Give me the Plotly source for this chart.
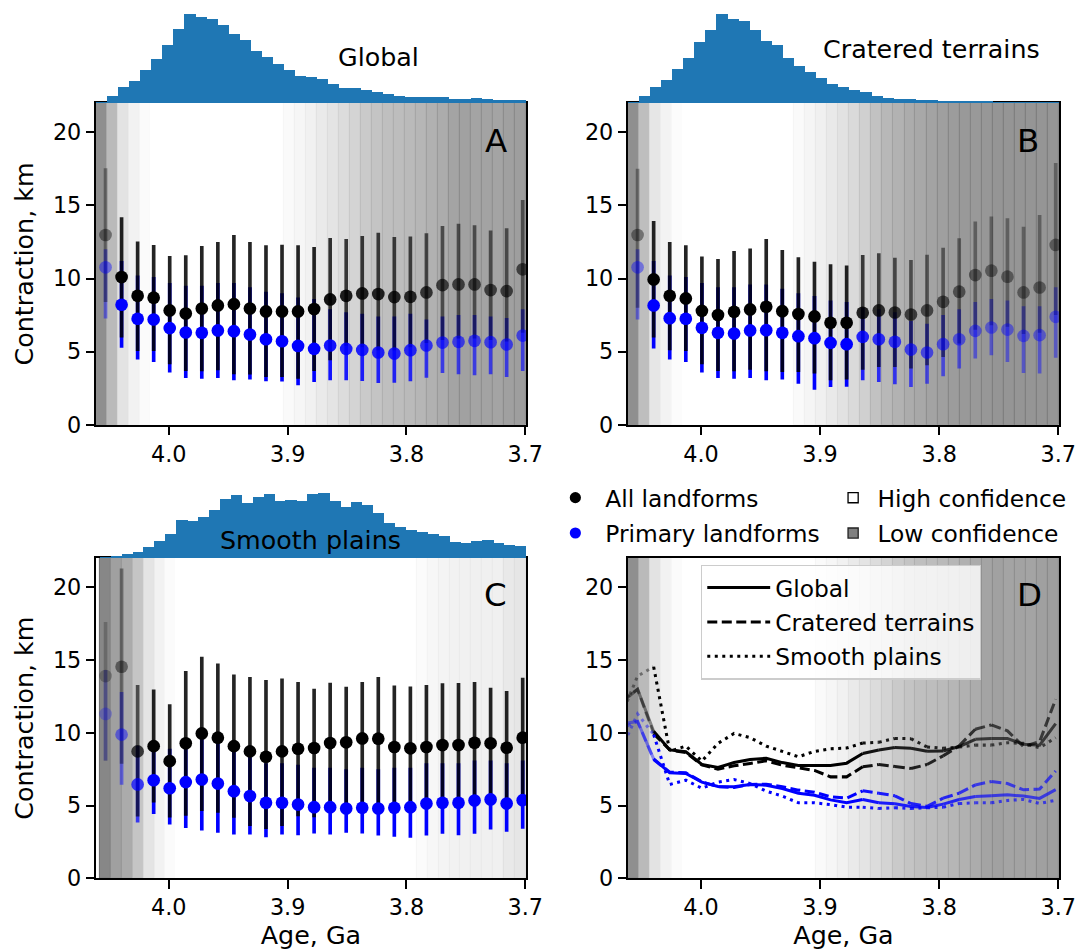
import plotly.graph_objects as go

# target picture size (all positions below are in these pixels)
W, H = 1091, 952
# the capture shrinks the page by ~1.5 %; draw slightly larger to compensate
K = 1.0147
FIG_W, FIG_H = round(W * K), round(H * K)
FONT = "DejaVu Sans"


def S(v):
    return v * K


# ---------------- data ----------------
ages = [4.0532, 4.0397, 4.0262, 4.0127, 3.9992, 3.9857, 3.9722, 3.9587, 3.9452,
        3.9317, 3.9182, 3.9047, 3.8912, 3.8777, 3.8642, 3.8507, 3.8372, 3.8237,
        3.8102, 3.7967, 3.7832, 3.7697, 3.7562, 3.7427, 3.7292, 3.7157, 3.7022]

xticks = [4.0, 3.9, 3.8, 3.7]
xticklabels = ["4.0", "3.9", "3.8", "3.7"]
yticks = [0, 5, 10, 15, 20]
xrange_ = [4.0613, 3.6994]
yrange_ = [0, 22]

# Global (A)
glob_all = [12.98, 10.10, 8.82, 8.69, 7.82, 7.61, 7.95, 8.16, 8.25, 7.95, 7.75, 7.75, 7.75, 7.91,
            8.57, 8.82, 8.98, 8.94, 8.73, 8.75, 9.05, 9.55, 9.60, 9.60, 9.21, 9.14, 10.63]
glob_all_hi = [17.55, 14.19, 12.53, 12.30, 11.54, 11.59, 12.23, 12.50, 12.98, 12.50, 12.27, 12.32, 12.27, 12.16,
               12.78, 12.71, 12.91, 13.14, 12.85, 12.87, 13.10, 13.60, 13.74, 13.65, 13.28, 13.44, 15.38]
glob_all_lo = [8.4, 5.97, 5.05, 5.05, 4.14, 3.68, 3.66, 3.73, 3.45, 3.43, 3.27, 3.27, 3.15, 3.68,
               4.41, 5.4, 5.3, 5.1, 5.1, 5.3, 5.6, 5.8, 5.9, 5.9, 5.8, 5.7, 6.3]
glob_pri = [10.77, 8.21, 7.25, 7.20, 6.61, 6.31, 6.29, 6.45, 6.40, 6.17, 5.85, 5.71, 5.39, 5.19,
            5.42, 5.19, 5.12, 4.94, 4.87, 5.10, 5.42, 5.62, 5.67, 5.74, 5.65, 5.49, 6.10]
glob_pri_hi = [12.0, 11.2, 10.2, 10.1, 9.7, 9.5, 9.5, 9.7, 9.7, 9.4, 9.1, 9.0, 8.7, 8.6,
               7.9, 7.7, 7.6, 7.4, 7.4, 7.6, 7.2, 7.4, 7.5, 7.5, 7.4, 7.3, 7.9]
glob_pri_lo = [7.27, 5.26, 4.46, 4.30, 3.57, 3.20, 3.15, 3.20, 3.04, 3.09, 2.97, 2.95, 2.70, 2.93,
               3.04, 3.04, 2.99, 2.86, 2.88, 2.97, 3.22, 3.54, 3.45, 3.38, 3.45, 3.27, 3.68]
glob_alpha = [0.42, 1, 1, 1, 1, 1, 1, 1, 1, 1, 1, 1, 1, 1,
              0.92, 0.88, 0.86, 0.84, 0.82, 0.8, 0.72, 0.66, 0.64, 0.64, 0.64, 0.64, 0.6]

# Cratered terrains (B)
cr_all = [12.98, 9.94, 8.82, 8.64, 7.79, 7.50, 7.73, 7.89, 8.07, 7.77, 7.57, 7.41, 6.97, 6.97,
          7.66, 7.82, 7.68, 7.54, 7.82, 8.41, 9.10, 10.24, 10.54, 10.13, 9.05, 9.39, 12.30]
cr_all_hi = [17.51, 13.94, 12.50, 12.27, 11.50, 11.34, 11.89, 12.05, 12.71, 11.95, 11.45, 11.15, 10.97, 10.90,
             11.61, 11.73, 11.43, 11.27, 11.63, 12.11, 12.75, 13.90, 14.24, 14.13, 13.55, 14.35, 17.9]
cr_all_lo = [8.0, 5.97, 5.10, 5.05, 4.14, 3.68, 3.66, 3.77, 3.66, 3.61, 3.61, 3.50, 3.04, 3.09,
             3.77, 3.95, 3.95, 3.84, 4.07, 4.64, 5.55, 6.5, 6.8, 6.7, 6.2, 6.3, 7.5]
cr_pri = [10.77, 8.16, 7.29, 7.25, 6.63, 6.29, 6.24, 6.45, 6.47, 6.29, 6.06, 5.92, 5.60, 5.51,
          6.01, 5.85, 5.67, 5.14, 4.94, 5.51, 5.85, 6.42, 6.65, 6.51, 6.08, 6.13, 7.38]
cr_pri_hi = [12.0, 11.2, 10.2, 10.1, 9.7, 9.4, 9.4, 9.6, 9.6, 9.3, 9.0, 8.8, 8.5, 8.4,
             8.0, 7.9, 7.7, 7.1, 6.9, 7.5, 7.9, 8.4, 8.6, 8.5, 8.1, 8.1, 9.4]
cr_pri_lo = [7.2, 5.21, 4.46, 4.30, 3.57, 3.20, 3.15, 3.20, 3.04, 3.09, 2.81, 2.40, 2.58, 2.6,
             3.04, 2.93, 2.77, 2.58, 2.81, 3.31, 3.84, 4.53, 4.75, 4.30, 3.54, 3.50, 4.59]
cr_alpha = [0.4, 1, 1, 1, 1, 1, 1, 1, 1, 1, 1, 1, 1, 1,
            0.85, 0.78, 0.72, 0.65, 0.58, 0.55, 0.5, 0.45, 0.42, 0.42, 0.42, 0.42, 0.4]

# Smooth plains (C)
sp_all = [13.89, 14.53, 8.72, 9.08, 8.05, 9.27, 9.95, 9.66, 9.08, 8.72, 8.35, 8.72, 8.90, 8.95,
          9.29, 9.34, 9.61, 9.59, 9.02, 8.93, 9.02, 9.15, 9.15, 9.31, 9.27, 8.97, 9.66]
sp_all_hi = [17.6, 21.28, 13.27, 12.97, 11.95, 14.23, 15.22, 14.76, 14.0, 13.82, 13.62, 13.73, 13.48, 13.02,
             13.43, 13.16, 13.48, 13.82, 13.25, 13.18, 13.27, 13.39, 13.41, 13.48, 13.08, 12.87, 13.78]
sp_all_lo = [8.07, 7.87, 4.25, 5.21, 4.18, 4.3, 4.62, 4.5, 4.16, 3.59, 3.4, 3.6, 4.27, 4.2,
             5.1, 5.0, 5.05, 5.0, 5.05, 5.1, 5.35, 5.4, 5.4, 5.55, 5.6, 5.35, 5.6]
sp_pri = [11.29, 9.87, 6.45, 6.74, 6.19, 6.61, 6.79, 6.51, 5.99, 5.65, 5.19, 5.19, 5.07, 4.89,
          4.89, 4.80, 4.85, 4.80, 4.85, 4.89, 5.14, 5.19, 5.19, 5.35, 5.42, 5.14, 5.37]
sp_pri_hi = [14.3, 12.8, 9.1, 9.4, 8.9, 9.4, 9.6, 9.3, 8.7, 8.4, 7.9, 7.9, 7.8, 7.6,
             7.6, 7.5, 7.6, 7.5, 7.6, 7.6, 7.9, 7.9, 7.9, 8.1, 8.1, 7.9, 8.1]
sp_pri_lo = [8.1, 6.43, 3.84, 4.42, 3.7, 3.46, 3.29, 3.13, 3.02, 3.02, 2.83, 3.02, 2.97, 3.09,
             3.02, 3.13, 3.09, 2.95, 2.86, 2.79, 2.95, 3.06, 2.97, 3.06, 3.36, 3.2, 3.41]
sp_alpha = [0.25, 0.45, 0.72, 1, 1, 1, 1, 1, 1, 1, 1, 1, 1, 1,
            1, 1, 1, 1, 1, 1, 1, 1, 1, 1, 1, 1, 1]

# D: values of each curve one step before the first bin (off the left edge)
d_lead_age = 4.0667
d_lead_alpha = 0.42
d_lead_glob_all, d_lead_cr_all, d_lead_sp_all = 12.06, 12.2, 11.2
d_lead_glob_pri, d_lead_cr_pri, d_lead_sp_pri = 10.6, 10.3, 8.9

# histogram / confidence bins
bins_gc = [4.0567, 4.0474, 4.0381, 4.0288, 4.0195, 4.0103, 4.0010, 3.9917, 3.9824, 3.9731,
           3.9638, 3.9545, 3.9453, 3.9360, 3.9267, 3.9174, 3.9081, 3.8988, 3.8895, 3.8803,
           3.8710, 3.8617, 3.8524, 3.8431, 3.8338, 3.8245, 3.8153, 3.8060, 3.7967, 3.7874,
           3.7781, 3.7688, 3.7595, 3.7503, 3.7410, 3.7317, 3.7224, 3.7131, 3.7038]
binw_gc = 0.00928
bins_sp = [4.0534, 4.0442, 4.0350, 4.0258, 4.0166, 4.0074, 3.9982, 3.9890, 3.9798, 3.9706,
           3.9614, 3.9523, 3.9431, 3.9339, 3.9247, 3.9155, 3.9063, 3.8971, 3.8879, 3.8787,
           3.8695, 3.8603, 3.8511, 3.8419, 3.8327, 3.8235, 3.8143, 3.8051, 3.7959, 3.7867,
           3.7776, 3.7684, 3.7592, 3.7500, 3.7408, 3.7316, 3.7224, 3.7132, 3.7040]
binw_sp = 0.009195

glob_hist = [3, 22, 47, 65, 100, 133, 175, 223, 268, 257, 253, 233, 206, 190, 157, 139, 118, 100, 82, 77,
             73, 58, 46, 45, 40, 34, 28, 22, 19, 19, 19, 19, 13, 12, 14, 13, 10, 10, 10]
cr_hist = [2, 22, 48, 68, 103, 135, 182, 220, 268, 253, 247, 220, 187, 175, 135, 112, 94, 75, 58, 48,
           40, 32, 22, 16, 13, 13, 10, 8, 7, 7, 6, 6, 5, 4, 4, 4, 4, 4, 4]
sp_hist = [2, 6, 13, 18, 32, 51, 72, 114, 111, 124, 144, 178, 189, 166, 183, 192, 171, 174, 171, 192,
           195, 171, 154, 168, 159, 135, 105, 94, 84, 78, 72, 66, 48, 45, 51, 54, 45, 39, 36]

glob_shade = [143, 186, 227, 242, 251, 255, 255, 255, 255, 255, 255, 255, 255, 255, 255, 255, 255,
              250, 246, 241, 234, 228, 220, 212, 202, 196, 191, 189, 186, 182, 177, 172, 164, 161,
              164, 163, 164, 160, 158]
cr_shade = [143, 190, 230, 243, 252, 255, 255, 255, 255, 255, 255, 255, 255, 255, 255,
            250, 245, 240, 233, 226, 218, 208, 194, 184, 178, 172, 168, 163, 159, 156, 153, 153,
            151, 149, 149, 149, 149, 149, 149]
sp_shade = [135, 160, 171, 197, 228, 242, 251, 255, 255, 255, 255, 255, 255, 255, 255, 255, 255,
            255, 255, 255, 255, 255, 255, 255, 255, 255, 255, 255, 255,
            251, 247, 244, 242, 241, 240, 240, 240, 233, 230]

# ---------------- layout geometry (target px) ----------------
LX = (96.0, 526.5)
RX = (628.5, 1060.0)
TOPY = (103.0, 424.3)
BOTY = (557.3, 877.5)
HIST_H = 90.0
HIST_MAX = 270


def xd(p):
    return [p[0] / W, p[1] / W]


def yd(top, bot):
    return [1 - bot / H, 1 - top / H]


fig = go.Figure()


def add_bands(shade, centers, width, xa, ya):
    cols, lcols = [], []
    for g in shade:
        cols.append(f"rgb({g},{g},{g})")
        d = g if g >= 255 else max(0, g - int(round(0.18 * (255 - g))) - 4)
        lcols.append(f"rgb({d},{d},{d})")
    fig.add_trace(go.Bar(x=centers, y=[yrange_[1]] * len(centers), base=0,
                         width=[width * 1.01] * len(centers),
                         marker=dict(color=cols, line=dict(color=lcols, width=S(1))),
                         xaxis=xa, yaxis=ya, showlegend=False, hoverinfo="skip"))


def add_hist(vals, centers, width, xa, ya):
    fig.add_trace(go.Bar(x=centers, y=vals, width=[width * 1.04] * len(centers),
                         marker=dict(color="#1f77b4", line=dict(width=0)),
                         xaxis=xa, yaxis=ya, showlegend=False, hoverinfo="skip"))


def bar_trace(x, m, lo, hi, color, xa, ya):
    return go.Scatter(x=[x], y=[m], mode="markers",
                      marker=dict(size=2, color="rgba(0,0,0,0)"),
                      error_y=dict(type="data", symmetric=False, array=[hi - m],
                                   arrayminus=[m - lo], color=color, thickness=S(3.6), width=0),
                      xaxis=xa, yaxis=ya, showlegend=False, hoverinfo="skip")


def add_points(am, alo, ahi, pm, plo, phi, alpha, xa, ya):
    for i, x in enumerate(ages):
        fig.add_trace(bar_trace(x, pm[i], plo[i], phi[i], f"rgba(0,0,255,{alpha[i]})", xa, ya))
    for i, x in enumerate(ages):
        fig.add_trace(bar_trace(x, am[i], alo[i], ahi[i], f"rgba(0,0,0,{0.86 * alpha[i]:.3f})", xa, ya))
    fig.add_trace(go.Scatter(x=ages, y=am, mode="markers",
                             marker=dict(size=S(12.5), color=[f"rgba(0,0,0,{a})" for a in alpha]),
                             xaxis=xa, yaxis=ya, showlegend=False, hoverinfo="skip"))
    fig.add_trace(go.Scatter(x=ages, y=pm, mode="markers",
                             marker=dict(size=S(12.5), color=[f"rgba(0,0,255,{a})" for a in alpha]),
                             xaxis=xa, yaxis=ya, showlegend=False, hoverinfo="skip"))


def add_dline(vals, lead, rgb, dash, xa, ya):
    xs = [d_lead_age] + ages
    ys = [lead] + vals
    al = [d_lead_alpha] + glob_alpha
    n = len(xs)
    s = 0
    while s < n - 1:
        a = al[s]
        j = s
        while j + 1 < n - 1 and al[j + 1] == a:
            j += 1
        fig.add_trace(go.Scatter(x=xs[s:j + 2], y=ys[s:j + 2], mode="lines",
                                 line=dict(color=f"rgba({rgb},{a})", width=S(3), dash=dash),
                                 xaxis=xa, yaxis=ya, showlegend=False, hoverinfo="skip"))
        s = j + 1


DASH = "10px,4.5px"
DOT = "3px,4.5px"

# Panel A
add_bands(glob_shade, bins_gc, binw_gc, "x", "y")
add_points(glob_all, glob_all_lo, glob_all_hi, glob_pri, glob_pri_lo, glob_pri_hi, glob_alpha, "x", "y")
add_hist(glob_hist, bins_gc, binw_gc, "x5", "y5")
# Panel B
add_bands(cr_shade, bins_gc, binw_gc, "x2", "y2")
add_points(cr_all, cr_all_lo, cr_all_hi, cr_pri, cr_pri_lo, cr_pri_hi, cr_alpha, "x2", "y2")
add_hist(cr_hist, bins_gc, binw_gc, "x6", "y6")
# Panel C
add_bands(sp_shade, bins_sp, binw_sp, "x3", "y3")
add_points(sp_all, sp_all_lo, sp_all_hi, sp_pri, sp_pri_lo, sp_pri_hi, sp_alpha, "x3", "y3")
add_hist(sp_hist, bins_sp, binw_sp, "x7", "y7")
# Panel D
add_bands(glob_shade, bins_gc, binw_gc, "x4", "y4")
add_dline(glob_all, d_lead_glob_all, "0,0,0", "solid", "x4", "y4")
add_dline(cr_all, d_lead_cr_all, "0,0,0", DASH, "x4", "y4")
add_dline(sp_all, d_lead_sp_all, "0,0,0", DOT, "x4", "y4")
add_dline(glob_pri, d_lead_glob_pri, "0,0,255", "solid", "x4", "y4")
add_dline(cr_pri, d_lead_cr_pri, "0,0,255", DASH, "x4", "y4")
add_dline(sp_pri, d_lead_sp_pri, "0,0,255", DOT, "x4", "y4")

# legend entries
for k, (nm, dash) in enumerate([("Global", "solid"), ("Cratered terrains", DASH), ("Smooth plains", DOT)]):
    fig.add_trace(go.Scatter(x=[None], y=[None], mode="lines", name=nm,
                             line=dict(color="black", width=S(3), dash=dash),
                             legend="legend", legendgroup=f"l{k}", xaxis="x4", yaxis="y4"))
for k, (nm, col) in enumerate([("All landforms", "black"), ("Primary landforms", "blue")]):
    fig.add_trace(go.Scatter(x=[None], y=[None], mode="markers", name=nm,
                             marker=dict(color=col, size=S(11)),
                             legend="legend2", legendgroup=f"m{k}", xaxis="x4", yaxis="y4"))
for k, (nm, col, lc) in enumerate([("High confidence", "white", "black"), ("Low confidence", "#808080", "#222222")]):
    fig.add_trace(go.Scatter(x=[None], y=[None], mode="markers", name=nm,
                             marker=dict(color=col, size=S(10), symbol="square", line=dict(color=lc, width=S(1.3))),
                             legend="legend3", legendgroup=f"s{k}", xaxis="x4", yaxis="y4"))

tickfont = dict(family=FONT, size=S(22), color="black")


def main_x(dom, anchor, title=None):
    d = dict(domain=xd(dom), anchor=anchor, range=xrange_, tickmode="array", tickvals=xticks,
             ticktext=xticklabels, ticks="outside", ticklen=S(8), tickwidth=S(1.6), tickcolor="black",
             showline=True, linewidth=S(2), linecolor="black", mirror=True, showgrid=False,
             zeroline=False, tickfont=tickfont, fixedrange=True)
    if title:
        d["title"] = dict(text=title, font=dict(family=FONT, size=S(25), color="black"), standoff=S(6))
    return d


def main_y(dom, anchor, title=None):
    d = dict(domain=yd(*dom), anchor=anchor, range=yrange_, tickmode="array", tickvals=yticks,
             ticks="outside", ticklen=S(8), tickwidth=S(1.6), tickcolor="black", showline=True,
             linewidth=S(2), linecolor="black", mirror=True, showgrid=False, zeroline=False,
             tickfont=tickfont, fixedrange=True)
    if title:
        d["title"] = dict(text=title, font=dict(family=FONT, size=S(25), color="black"), standoff=S(12))
    return d


def hist_x(dom, anchor):
    return dict(domain=xd(dom), anchor=anchor, range=xrange_, visible=False, fixedrange=True)


def hist_y(plot_top, anchor):
    return dict(domain=yd(plot_top - HIST_H, plot_top), anchor=anchor, range=[0, HIST_MAX],
                visible=False, fixedrange=True)


def ann(text, x, y, size):
    return dict(text=text, x=x / W, y=1 - y / H, xref="paper", yref="paper", showarrow=False,
                xanchor="center", yanchor="middle", font=dict(family=FONT, size=S(size), color="black"))


fig.update_layout(
    width=FIG_W, height=FIG_H, margin=dict(l=0, r=0, t=0, b=0, pad=0),
    paper_bgcolor="white", plot_bgcolor="white",
    font=dict(family=FONT, color="black"),
    bargap=0,
    xaxis=main_x(LX, "y"), yaxis=main_y(TOPY, "x", "Contraction, km"),
    xaxis2=main_x(RX, "y2"), yaxis2=main_y(TOPY, "x2"),
    xaxis3=main_x(LX, "y3", "Age, Ga"), yaxis3=main_y(BOTY, "x3", "Contraction, km"),
    xaxis4=main_x(RX, "y4", "Age, Ga"), yaxis4=main_y(BOTY, "x4"),
    xaxis5=hist_x(LX, "y5"), yaxis5=hist_y(TOPY[0], "x5"),
    xaxis6=hist_x(RX, "y6"), yaxis6=hist_y(TOPY[0], "x6"),
    xaxis7=hist_x(LX, "y7"), yaxis7=hist_y(BOTY[0], "x7"),
    legend=dict(x=701.6 / W, y=1 - 564 / H, xanchor="left", yanchor="top",
                bgcolor="rgba(255,255,255,0.8)", bordercolor="#cccccc", borderwidth=S(1.3),
                font=dict(family=FONT, size=S(23), color="black"), itemwidth=S(62), tracegroupgap=S(1)),
    legend2=dict(x=546 / W, y=1 - 475.5 / H, xanchor="left", yanchor="top",
                 bgcolor="rgba(0,0,0,0)", borderwidth=0,
                 font=dict(family=FONT, size=S(23), color="black"), itemwidth=S(49), tracegroupgap=S(2)),
    legend3=dict(x=829.6 / W, y=1 - 475.5 / H, xanchor="left", yanchor="top",
                 bgcolor="rgba(0,0,0,0)", borderwidth=0,
                 font=dict(family=FONT, size=S(23), color="black"), itemwidth=S(38), tracegroupgap=S(2)),
    annotations=[
        ann("Global", 379, 57, 25),
        ann("Cratered terrains", 932, 49, 25),
        ann("Smooth plains", 311, 539, 25),
        ann("A", 496, 141, 32),
        ann("B", 1028.5, 141, 32),
        ann("C", 496, 594, 32),
        ann("D", 1030, 594, 32),
    ],
)

fig.write_html("out.html")
